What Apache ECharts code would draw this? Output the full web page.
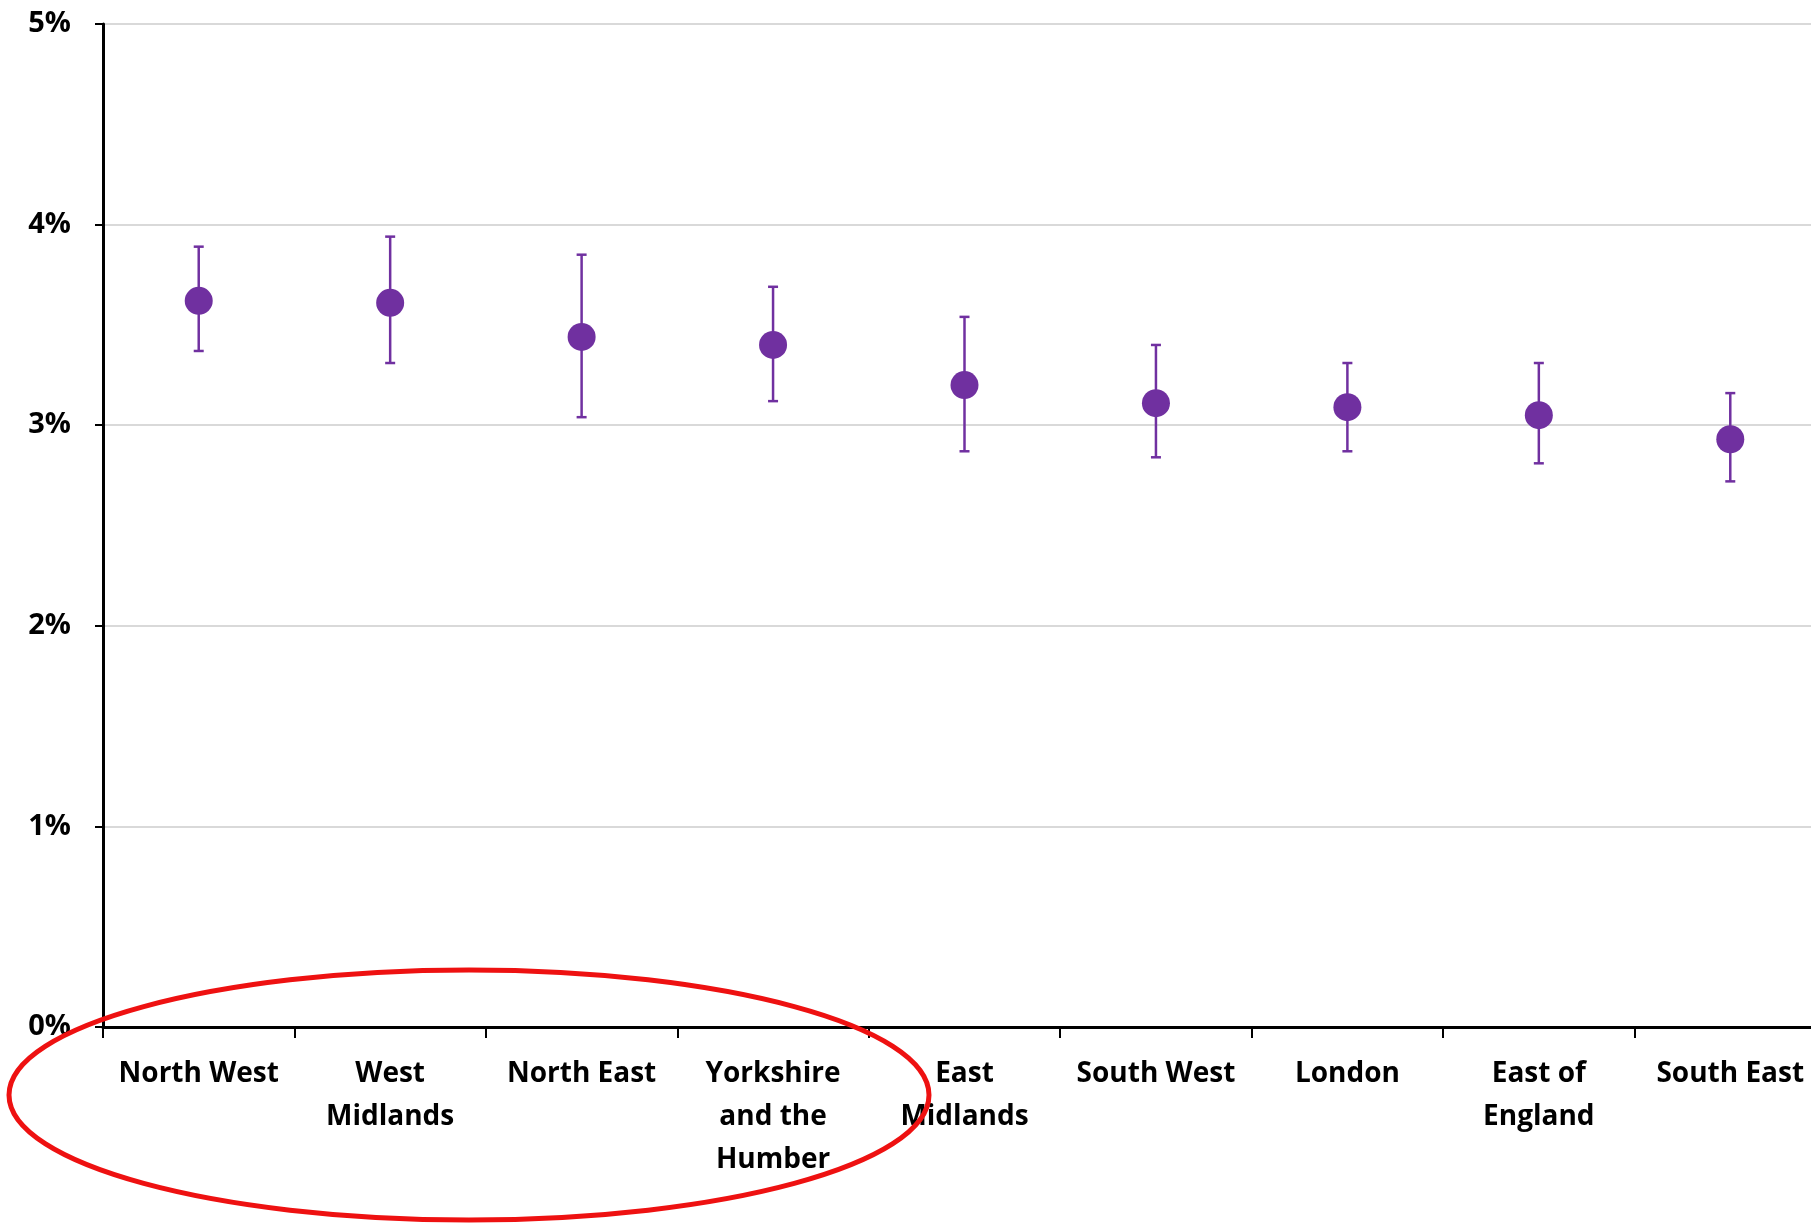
<!DOCTYPE html>
<html>
<head>
<meta charset="utf-8">
<script src="https://cdn.jsdelivr.net/npm/echarts@6/dist/echarts.min.js"></script>
<style>
html,body{margin:0;padding:0;background:#fff;overflow:hidden;}
#chart{width:1826px;height:1223px;}
</style>
</head>
<body>
<div id="chart"></div>
<script>
// ---- data (values in %) ----
var categories = ["North West", "West\nMidlands", "North East", "Yorkshire\nand the\nHumber", "East\nMidlands", "South West", "London", "East of\nEngland", "South East"];
var estimates = [3.62, 3.61, 3.44, 3.40, 3.20, 3.11, 3.09, 3.05, 2.93];
var lowerCI   = [3.37, 3.31, 3.04, 3.12, 2.87, 2.84, 2.87, 2.81, 2.72];
var upperCI   = [3.89, 3.94, 3.85, 3.69, 3.54, 3.40, 3.31, 3.31, 3.16];
var yTicks = [0, 1, 2, 3, 4, 5];

var purple = '#7030A0';
var font = '"Open Sans"';

var errData = categories.map(function (c, i) { return [i, lowerCI[i], upperCI[i]]; });
var pointData = categories.map(function (c, i) { return [i, estimates[i]]; });

var chart = echarts.init(document.getElementById('chart'), null, {renderer: 'canvas'});
chart.setOption({
  backgroundColor: '#ffffff',
  animation: false,
  grid: {left: 103, right: 0, top: 24, bottom: 196, containLabel: false},
  xAxis: {
    type: 'category',
    data: categories,
    boundaryGap: true,
    axisLine: {show: true, lineStyle: {color: '#000', width: 3}},
    axisTick: {show: true, length: 11, lineStyle: {color: '#000', width: 2}, alignWithLabel: false},
    axisLabel: {
      interval: 0, margin: 26, color: '#000', fontFamily: font, fontWeight: 'bold',
      fontSize: 28, lineHeight: 43, align: 'center'
    },
    splitLine: {show: false}
  },
  yAxis: {
    type: 'value',
    min: yTicks[0], max: yTicks[yTicks.length - 1], interval: 1,
    axisLine: {show: true, lineStyle: {color: '#000', width: 3}},
    axisTick: {show: true, length: 8, inside: false, lineStyle: {color: '#000', width: 2}},
    axisLabel: {
      margin: 32, color: '#000', fontFamily: font, fontWeight: 'bold', fontSize: 29,
      formatter: function (v) { return v + '%'; }
    },
    splitLine: {show: true, lineStyle: {color: '#d9d9d9', width: 2}}
  },
  series: [
    {
      type: 'custom',
      data: errData,
      z: 2,
      renderItem: function (params, api) {
        var i = api.value(0);
        var lo = api.coord([i, api.value(1)]);
        var hi = api.coord([i, api.value(2)]);
        var cw = 5;
        var st = {stroke: purple, lineWidth: 2.5};
        return {
          type: 'group',
          children: [
            {type: 'line', shape: {x1: hi[0], y1: hi[1], x2: lo[0], y2: lo[1]}, style: st},
            {type: 'line', shape: {x1: hi[0] - cw, y1: hi[1], x2: hi[0] + cw, y2: hi[1]}, style: st},
            {type: 'line', shape: {x1: lo[0] - cw, y1: lo[1], x2: lo[0] + cw, y2: lo[1]}, style: st}
          ]
        };
      }
    },
    {
      type: 'scatter',
      data: pointData,
      z: 3,
      symbol: 'circle',
      symbolSize: 28,
      itemStyle: {color: purple, opacity: 1}
    }
  ],
  graphic: [
    {
      type: 'ellipse',
      shape: {cx: 469, cy: 1095, rx: 460, ry: 125},
      style: {fill: 'none', stroke: '#EE1111', lineWidth: 5},
      z: 100
    }
  ]
});
</script>
</body>
</html>
